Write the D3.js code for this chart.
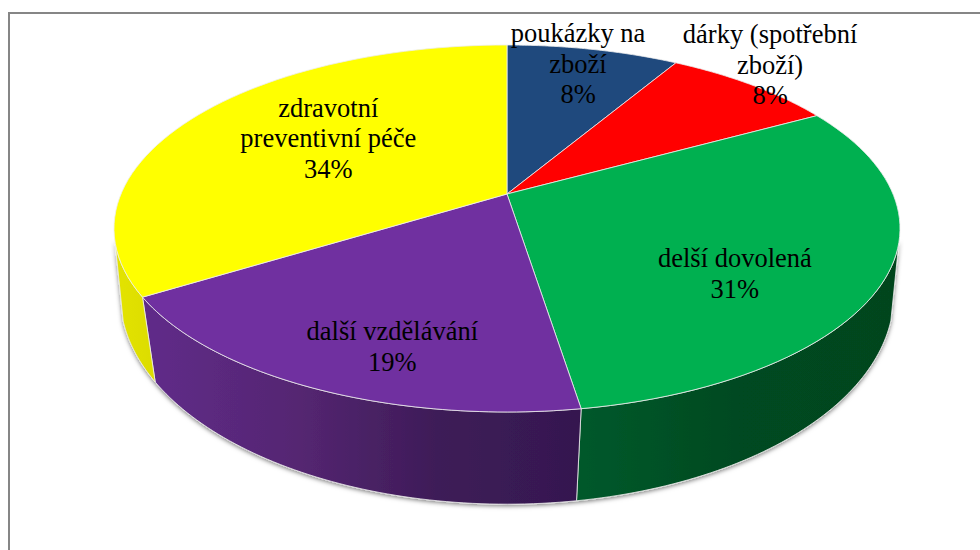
<!DOCTYPE html>
<html>
<head>
<meta charset="utf-8">
<script src="https://cdnjs.cloudflare.com/ajax/libs/d3/7.8.5/d3.min.js"></script>
<style>html,body{margin:0;padding:0;background:#fff;overflow:hidden}svg{display:block}</style>
</head>
<body>
<svg id="c" width="980" height="550"></svg>
<script>
const categories = ["poukázky na zboží", "dárky (spotřební zboží)", "delší dovolená", "další vzdělávání", "zdravotní preventivní péče"];
const labelLines = [["poukázky na", "zboží"], ["dárky (spotřební", "zboží)"], ["delší dovolená"], ["další vzdělávání"], ["zdravotní", "preventivní péče"]];
const values = [8.49, 8.49, 30.52, 18.7, 33.8];
const topColors = ["#1f497d", "#ff0000", "#00b050", "#7030a0", "#ffff00"];
const sideStops = [
  ["#17365d", "#17365d"],
  ["#b00000", "#b00000"],
  ["#06592c", "#004a20", "#03451f"],
  ["#5f2b88", "#552672", "#3e1c58", "#351850"],
  ["#e2e200", "#dcdc00"]
];
const labelOffsets = [[16, -59.5], [109, -82], [9, 24], [-7, 38.5], [13, -28]];

const svg = d3.select("#c");
const defs = svg.append("defs");
const shadow = defs.append("filter").attr("id", "sh").attr("x", "-5%").attr("y", "-5%").attr("width", "110%").attr("height", "115%");
shadow.append("feDropShadow").attr("dx", 0).attr("dy", 1.5).attr("stdDeviation", 2.2).attr("flood-color", "#000").attr("flood-opacity", 0.5);

svg.append("rect").attr("x", 9).attr("y", 13).attr("width", 1100).attr("height", 700)
  .attr("fill", "#fff").attr("stroke", "#868686").attr("stroke-width", 2);

const cx = 507, cy = 194;
const perspective = (x0, y0, B, A, k) => (t, r = 1) => {
  const u = r * Math.sin(t), v = r * Math.cos(t), w = 1 + k * v;
  return [x0 + B * u / w, y0 - A * v / w];
};
const project = perspective(cx, cy, 386, 177, 0.188);
const projectBase = perspective(cx, 265.8, 383, 205, 0.14);

const pie = d3.pie().sort(null).value(d => d);
const arcs = pie(values);
const line = d3.line();
const sample = (a, b, f) => d3.range(0, 61).map(i => f(a + (b - a) * i / 60));

const sideMin = Math.PI * 105 / 180, sideMax = Math.PI * 255 / 180;

const sides = svg.append("g").attr("filter", "url(#sh)");
arcs.forEach((d, i) => {
  const a = Math.max(d.startAngle, sideMin), b = Math.min(d.endAngle, sideMax);
  if (b <= a) return;
  const x0 = projectBase(a)[0], x1 = projectBase(b)[0];
  const g = defs.append("linearGradient").attr("id", "g" + i).attr("gradientUnits", "userSpaceOnUse")
    .attr("x1", Math.min(x0, x1)).attr("x2", Math.max(x0, x1)).attr("y1", 0).attr("y2", 0);
  sideStops[i].forEach((c, j, all) => g.append("stop").attr("offset", j / (all.length - 1)).attr("stop-color", c));
  const pts = sample(a, b, project).concat(sample(b, a, projectBase));
  sides.append("path").attr("d", line(pts) + "Z").attr("fill", `url(#g${i})`)
    .attr("stroke", "#eeeeee").attr("stroke-width", 0.8).attr("stroke-linejoin", "round");
});

const tops = svg.append("g");
arcs.forEach((d, i) => {
  const pts = [[cx, cy]].concat(sample(d.startAngle, d.endAngle, project));
  tops.append("path").attr("d", line(pts) + "Z").attr("fill", topColors[i])
    .attr("stroke", "#eeeeee").attr("stroke-width", 0.8).attr("stroke-linejoin", "round");
});

const fmt = d3.format(".0%");
const total = d3.sum(values);
const labels = svg.append("g").attr("font-family", "'Liberation Serif', serif").attr("font-size", 26.5)
  .attr("fill", "#000").attr("text-anchor", "middle");
arcs.forEach((d, i) => {
  const [mx, my] = project((d.startAngle + d.endAngle) / 2, 0.6);
  const x = mx + labelOffsets[i][0], y = my + labelOffsets[i][1];
  const t = labels.append("text").attr("x", x).attr("y", y);
  labelLines[i].concat([fmt(d.value / total)]).forEach((s, j) => {
    t.append("tspan").attr("x", x).attr("dy", j ? 30.5 : 0).text(s);
  });
});
</script>
</body>
</html>
